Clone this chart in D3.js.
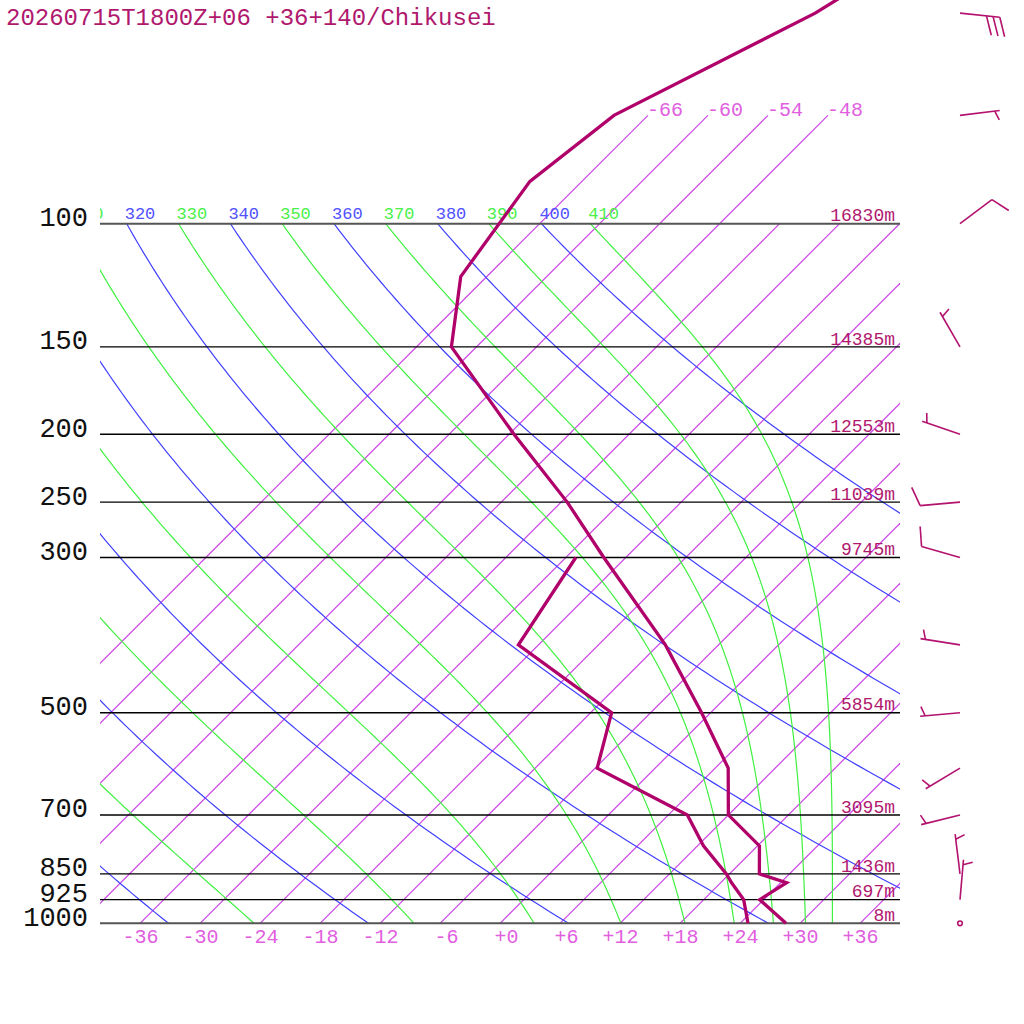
<!DOCTYPE html>
<html><head><meta charset="utf-8">
<script src="https://cdn.jsdelivr.net/npm/d3@7/dist/d3.min.js"></script>
<style>
html,body{margin:0;padding:0;background:#fff;}
svg{display:block;}
</style></head><body>
<svg id="c" width="1024" height="1024"></svg>
<script>
const FONT = '"Liberation Mono","DejaVu Sans Mono",monospace';
const title = "20260715T1800Z+06 +36+140/Chikusei";

// temperature profile (hPa, degC)
const profP = [1000, 925, 875, 850, 775, 700, 600, 500, 400, 300, 250, 200, 150, 119, 87, 70, 50, 40];
const profT = [28.6, 23.6, 24.6, 21.0, 18.2, 12.0, 7.3, -0.9, -11.3, -26.2, -35.4, -47.5, -62.5, -68.6, -71.2, -69.4, -59.5, -55.3];
// dewpoint profile
const dewP = [1000, 925, 875, 850, 775, 700, 600, 500, 400, 300];
const dewT = [24.8, 22.0, 19.1, 17.7, 12.6, 7.9, -5.8, -9.9, -26.0, -29.0];
// winds (direction from, knots)
const windP   = [1000, 925, 850, 700, 600, 500, 400, 300, 250, 200, 150, 100, 70, 50];
const windDir = [0, 5, 353, 256, 239, 265, 279, 286, 265, 289, 330, 53, 83, 96];
const windKt  = [0, 5, 5, 5, 5, 5, 5, 10, 10, 5, 5, 10, 5, 30];
// isobars and heights
const isobars = [100, 150, 200, 250, 300, 500, 700, 850, 925, 1000];
const heightP = [100, 150, 200, 250, 300, 500, 700, 850, 925, 1000];
const heightLabels = ["16830m", "14385m", "12553m", "11039m", "9745m", "5854m", "3095m", "1436m", "697m", "8m"];
// temperature ticks / isotherms
const tempTicks = [-36, -30, -24, -18, -12, -6, 0, 6, 12, 18, 24, 30, 36];
const isotherms = [-66, -60, -54, -48, -42, -36, -30, -24, -18, -12, -6, 0, 6, 12, 18, 24, 30, 36];
const isothermLabels = [-66, -60, -54, -48];
// adiabats
const dryThetas = [240, 260, 280, 300, 320, 340, 360, 380, 400];
const moistThetas = [250, 270, 290, 310, 330, 350, 370, 390, 410];

const svg = d3.select("#c");
const y = d3.scaleLog().domain([1000, 100]).range([923.3, 223.7]);
const x = d3.scaleLinear().domain([-40, 40]).range([100, 900]);
const skewX = (T, p) => x(T) + (y(1000) - y(p));

const defs = svg.append("defs");
defs.append("clipPath").attr("id", "cPlot").append("rect")
  .attr("x", 100).attr("y", y(100)).attr("width", 800).attr("height", y(1000) - y(100));
defs.append("clipPath").attr("id", "cIso").append("rect")
  .attr("x", 100).attr("y", 0).attr("width", 800).attr("height", y(1000));
defs.append("clipPath").attr("id", "cLab").append("rect")
  .attr("x", 100).attr("y", 180).attr("width", 800).attr("height", 50);

const line = d3.line().x(d => d[0]).y(d => d[1]);
const levels = d3.range(0, 121).map(i => 1000 * Math.pow(0.1, i / 120));

// isotherms
const gIso = svg.append("g").attr("clip-path", "url(#cIso)");
isotherms.forEach(T => {
  const top = isothermLabels.includes(T) ? 70 : 100;
  gIso.append("path").attr("d", line([[skewX(T, 1000), y(1000)], [skewX(T, top), y(top)]]))
    .attr("fill", "none").attr("stroke", "#cc44e6").attr("stroke-width", 1.2);
});
isothermLabels.forEach(T => {
  svg.append("text").attr("x", skewX(T, 70) - 1).attr("y", y(70) + 1)
    .attr("font-family", FONT).attr("font-size", 20).attr("fill", "#e060e0")
    .text("-" + Math.abs(T));
});

// dry adiabats
const gAd = svg.append("g").attr("clip-path", "url(#cPlot)");
const dryT = (th, p) => th * Math.pow(p / 1000, 0.2854) - 273.15;
dryThetas.forEach(th => {
  gAd.append("path").attr("d", line(levels.map(p => [skewX(dryT(th, p), p), y(p)])))
    .attr("fill", "none").attr("stroke", "#4040ff").attr("stroke-width", 1.2);
});

// moist adiabats (Bolton theta-e)
function esat(Tc) { return 6.112 * Math.exp(17.67 * Tc / (Tc + 243.5)); }
function thetaE(Tc, p) {
  const TK = Tc + 273.15, es = esat(Tc);
  if (es >= 0.5 * p) return Infinity;
  const r = 622 * es / (p - es);
  return TK * Math.pow(1000 / p, 0.2854 * (1 - 0.28e-3 * r)) *
    Math.exp((3.376 / TK - 0.00254) * r * (1 + 0.81e-3 * r));
}
function tForThetaE(te, p) {
  let lo = -170, hi = 70;
  for (let i = 0; i < 60; i++) {
    const m = (lo + hi) / 2;
    if (thetaE(m, p) > te) hi = m; else lo = m;
  }
  return (lo + hi) / 2;
}
moistThetas.forEach(te => {
  gAd.append("path").attr("d", line(levels.map(p => [skewX(tForThetaE(te, p), p), y(p)])))
    .attr("fill", "none").attr("stroke", "#40f040").attr("stroke-width", 1.2);
});

// adiabat labels at 100 hPa (only those reaching into the plot)
const gLab = svg.append("g").attr("clip-path", "url(#cLab)")
  .attr("font-family", FONT).attr("font-size", 17);
const LABW = 30;
dryThetas.forEach(th => {
  const lx = skewX(dryT(th, 100), 100) - 2;
  if (lx + LABW < 100) return;
  gLab.append("text").attr("x", lx).attr("y", y(100) - 5.2).attr("fill", "#5050ff").text(th);
});
moistThetas.forEach(te => {
  const lx = skewX(tForThetaE(te, 100), 100) - 2;
  if (lx + LABW < 100) return;
  gLab.append("text").attr("x", lx).attr("y", y(100) - 5.2).attr("fill", "#48f048").text(te);
});

// isobars
isobars.forEach(p => {
  const edge = (p === 100 || p === 1000);
  svg.append("path").attr("d", line([[100, y(p)], [900, y(p)]]))
    .attr("stroke", edge ? "#555" : "#000").attr("stroke-width", edge ? 2 : 1.4).attr("fill", "none");
});

// pressure axis
const gy = svg.append("g").attr("transform", "translate(100,0)")
  .call(d3.axisLeft(y).tickValues(isobars).tickFormat(d3.format("d")).tickSize(0).tickPadding(12));
gy.select(".domain").remove();
gy.attr("font-family", FONT).attr("font-size", 27);
gy.selectAll("text").attr("dy", "2").attr("fill", "#111");

// temperature axis
const fmtT = d => ((d < 0 ? "-" : "+") + Math.abs(d)).padStart(3, "\u00A0");
const gx = svg.append("g").attr("transform", `translate(0,${y(1000)})`)
  .call(d3.axisBottom(x).tickValues(tempTicks).tickFormat(fmtT).tickSize(0).tickPadding(0));
gx.select(".domain").remove();
gx.attr("font-family", FONT).attr("font-size", 20);
gx.selectAll("text").attr("y", 19.7).attr("dy", 0).attr("fill", "#e060e0");

// heights
const gh = svg.append("g").attr("font-family", FONT).attr("font-size", 18).attr("fill", "#b0186e");
heightP.forEach((p, i) => {
  gh.append("text").attr("x", 895).attr("y", y(p) - 2.3).attr("text-anchor", "end").text(heightLabels[i]);
});

// profiles
const PCOL = "#b0006a";
svg.append("path").attr("d", line(dewP.map((p, i) => [skewX(dewT[i], p), y(p)])))
  .attr("fill", "none").attr("stroke", PCOL).attr("stroke-width", 3.3);
svg.append("path").attr("d", line(profP.map((p, i) => [skewX(profT[i], p), y(p)])))
  .attr("fill", "none").attr("stroke", PCOL).attr("stroke-width", 3.3);

// wind barbs
const gw = svg.append("g").attr("stroke", "#b3126e").attr("stroke-width", 1.6).attr("fill", "none");
const BX = 960, L = 40, FULL = 20, HALF = 10, SP = 6.7, ANG = 70 * Math.PI / 180;
windP.forEach((p, i) => {
  const y0 = y(p), kt = windKt[i];
  if (kt < 2.5) {
    gw.append("circle").attr("cx", BX).attr("cy", y0).attr("r", 2.3);
    return;
  }
  const rad = windDir[i] * Math.PI / 180;
  const ux = Math.sin(rad), uy = -Math.cos(rad);
  const tx = BX + ux * L, ty = y0 + uy * L;
  gw.append("path").attr("d", line([[BX, y0], [tx, ty]]));
  const bx = ux * Math.cos(ANG) - uy * Math.sin(ANG);
  const by = ux * Math.sin(ANG) + uy * Math.cos(ANG);
  const n10 = Math.floor(kt / 10), n5 = (kt % 10) >= 5 ? 1 : 0;
  let pos = 0;
  for (let k = 0; k < n10; k++) {
    const sx = tx - ux * pos, sy = ty - uy * pos;
    gw.append("path").attr("d", line([[sx, sy], [sx + bx * FULL, sy + by * FULL]]));
    pos += SP;
  }
  if (n5) {
    if (n10 === 0) pos = 5;
    const sx = tx - ux * pos, sy = ty - uy * pos;
    gw.append("path").attr("d", line([[sx, sy], [sx + bx * HALF, sy + by * HALF]]));
  }
});

// title
svg.append("text").attr("x", 6).attr("y", 25).attr("font-family", FONT).attr("font-size", 24)
  .attr("fill", "#b0186e").text(title);
</script>
</body></html>
